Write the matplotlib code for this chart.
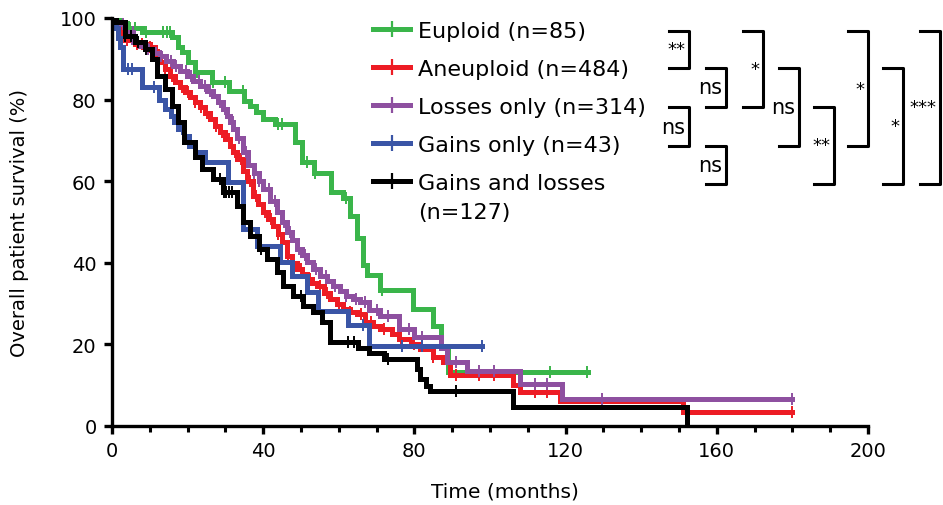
import numpy as np
import matplotlib
matplotlib.use('Agg')
import matplotlib.pyplot as plt
from matplotlib.lines import Line2D
from matplotlib.ticker import MultipleLocator

W, H = 943, 506

# legend labels and colours
labels = ['Euploid (n=85)', 'Aneuploid (n=484)', 'Losses only (n=314)',
          'Gains only (n=43)', 'Gains and losses']
colors = ['#3ab54a', '#ed1c24', '#8e50a0', '#3a55a6', '#000000']

# Kaplan-Meier steps: months, % alive from that month on
eu_t = [0, 2, 4, 8, 16, 17.5, 18.5, 20, 22, 26.5, 31, 35, 36.5, 38, 40, 43,
        48.4, 50.3, 53.5, 58, 61, 63, 64.8, 66.5, 67.5, 71, 79.6, 85, 87, 89]
eu_s = [100, 98.8, 97.6, 96.5, 95.3, 92.9, 91.7, 89.3, 86.8, 84.4, 82, 79.6,
        78.4, 77, 75.2, 74, 69.6, 64.7, 62, 57.4, 56, 51.5, 46, 39.5, 37,
        33.4, 28.7, 24.6, 19.7, 13.2]
eu_end = 126

an_t = [0, 1, 2.6, 6, 10, 11.3, 12.7, 14, 15.3, 16.6, 18, 19.3, 20.6, 22,
        23.3, 24.6, 25.9, 27.2, 28.6, 29.9, 31.2, 32, 33, 34.7, 35.7, 37.3,
        38.6, 40, 41.3, 42.6, 43.8, 45, 46.3, 47.6, 48.9, 50.2, 51.6, 52.9,
        54.2, 56, 57.7, 59.4, 61.1, 63, 64.8, 67, 69, 71, 74, 76, 79, 81.5,
        85, 87.6, 89.4, 106, 108, 118.5, 151]
an_s = [100, 97.5, 94.5, 93.6, 93, 91, 89.2, 87.5, 85.9, 84.4, 83, 81.8,
        80.6, 79.4, 78.2, 76.7, 75.2, 73.6, 72, 70.3, 68.7, 67.2, 65.5, 62.5,
        60, 56.4, 54.4, 52.4, 50.7, 49, 47, 45, 41.7, 40, 38.5, 37.2, 36,
        35.1, 34.3, 32.7, 31.1, 29.9, 28.7, 28, 27.5, 25.5, 24.5, 23.8, 22.5,
        21.3, 20, 18.9, 17, 15.6, 12.6, 10, 8.3, 6.2, 3.4]
an_end = 180

lo_t = [0, 1, 3.4, 5.6, 7.5, 9.3, 11, 12.7, 14.4, 16.1, 18, 19.8, 21.5, 23.3,
        25, 26.7, 28, 29.4, 30.3, 31.2, 32.1, 33, 34.7, 36, 37.5, 38.8, 40,
        41.8, 43.6, 45, 46.3, 47.6, 48.9, 50.3, 51.6, 53.3, 55, 56.8, 58.5,
        60.3, 62, 63.8, 65.6, 68, 71, 76, 80, 87, 88.6, 94, 108, 119]
lo_s = [100, 98.5, 96.5, 94, 93.2, 92.4, 91.5, 90.7, 89.5, 88.2, 87, 85.8,
        84.5, 83.3, 82.1, 80.9, 79.3, 77.7, 76.1, 74.5, 72.8, 70.5, 67.2, 64,
        62, 60, 58, 55.2, 52.4, 50, 47.5, 45.5, 43.4, 41.8, 40.2, 38.5, 36.8,
        35.5, 34.3, 33.1, 31.9, 31.1, 30.4, 28.5, 27, 23.8, 21.8, 19, 15.7,
        13.5, 10.3, 6.6]
lo_end = 180

ga_t = [0, 1, 1.6, 2.2, 3, 8, 12.5, 14, 15.5, 16.5, 17.5, 19, 20.5, 22, 24.5,
        30.7, 34.7, 38.4, 44.4, 47.5, 51.6, 54.5, 62.5, 68]
ga_s = [100, 97.5, 95, 93, 87.5, 83, 80, 77.7, 76, 74.5, 72.8, 71, 68.6,
        67.2, 64.7, 59.8, 48.3, 44.1, 40.2, 36.8, 32.8, 28.2, 24.8, 19.5]
ga_end = 98

gl_t = [0, 1, 3.4, 6, 8.7, 10.6, 12, 14, 15.9, 17.5, 19, 22, 23.8, 26.8,
        29.4, 33, 34.7, 36.5, 39, 41, 43.6, 45.2, 47.9, 50.5, 53.2, 55.5,
        57.7, 65, 68, 72, 80.7, 81.5, 83, 84, 106, 152]
gl_s = [100, 99, 95.6, 94, 92.4, 90, 85.8, 82.6, 78.4, 74.5, 69.6, 66, 63,
        60.5, 57.4, 54, 50, 46.6, 43.4, 41, 37.7, 34.3, 31.9, 29.4, 27.9,
        25.5, 20.6, 19, 18, 16.4, 14, 11.5, 9.8, 8.6, 4.6, 0]
gl_end = 152

# censored patients (months)
eu_c = [2.6, 4.8, 6, 9, 13.5, 14.5, 15.3, 22.5, 26.7, 30, 34.6, 44, 45, 51.5,
        53.7, 62, 71.4, 116, 125.7]
an_c = [2.5, 4, 6.5, 8, 10, 12.5, 14, 16, 18.5, 20, 22, 23.5, 25, 27.5, 29,
        31, 32.5, 34, 36.5, 38, 40.5, 42, 44, 46.5, 48, 50, 52.5, 55, 57, 60,
        63, 66, 68.5, 72, 76.5, 80, 85, 91, 97, 101, 112, 115, 180]
lo_c = [1.5, 3, 5.5, 7, 9.5, 11, 13, 15.5, 17, 19.5, 21, 23, 24.5, 26, 28.5,
        30, 32, 33.5, 35.5, 37.5, 39, 41.5, 43, 45.5, 47, 49.5, 51, 54, 56.5,
        59, 62, 64.5, 67, 70, 73, 78.5, 82, 91, 97, 101, 112, 115, 129.5, 180]
ga_c = [4.2, 5.3, 11, 18.5, 37, 66.5, 76.7, 82, 98]
gl_c = [3.5, 5, 7, 9, 28.5, 29.5, 30.2, 31, 31.8, 39.5, 50, 62.5, 64, 73, 91]

series = [(eu_t, eu_s, eu_end, eu_c), (an_t, an_s, an_end, an_c),
          (lo_t, lo_s, lo_end, lo_c), (ga_t, ga_s, ga_end, ga_c),
          (gl_t, gl_s, gl_end, gl_c)]

# log-rank comparisons: (group a, group b, label)
brackets = [(0, 1, '**'), (1, 2, 'ns'), (2, 3, 'ns'), (3, 4, 'ns'),
            (0, 2, '*'), (1, 3, 'ns'), (2, 4, '**'), (0, 3, '*'),
            (1, 4, '*'), (0, 4, '***')]
bracket_x = [689, 726, 689, 726, 763, 799, 834, 868, 903, 940]
row_y = [32, 69, 108, 147, 185]

plt.rcParams['font.family'] = ['DejaVu Sans']

fig = plt.figure(figsize=(W / 100, H / 100), dpi=100)
ax = fig.add_axes([112 / W, 1 - 427 / H, (868 - 112) / W, (427 - 19) / H])

order = [0, 4, 1, 2, 3]
for i in order:
    t, s, end, cens = series[i]
    tt = np.array(t + [end])
    ss = np.array(s + [s[-1]])
    ax.step(tt, ss, where='post', color=colors[i], lw=3.6, zorder=2 + i * 0.1,
            solid_joinstyle='miter')
    idx = np.searchsorted(np.array(t), np.array(cens), side='right') - 1
    cy = np.array(s)[idx]
    ax.plot(cens, cy, ls='none', marker='|', ms=9, mew=1.4,
            color=colors[i], zorder=2 + i * 0.1)

handles = []
for i in range(5):
    handles.append(Line2D([], [], color=colors[i], lw=3.6, marker='|',
                          ms=11, mew=1.6))

ax.set_xlim(0, 200)
ax.set_ylim(0, 100)
ax.set_xticks([0, 40, 80, 120, 160, 200])
ax.xaxis.set_minor_locator(MultipleLocator(10))
ax.set_yticks([0, 20, 40, 60, 80, 100])
for side in ['top', 'right']:
    ax.spines[side].set_visible(False)
for side in ['left', 'bottom']:
    ax.spines[side].set_linewidth(2.4)
ax.tick_params(which='major', length=6, width=2.4, labelsize=14, pad=5)
ax.tick_params(which='minor', length=4, width=2.2)
ax.set_xlabel('Time (months)', fontsize=14.5, x=0.52, labelpad=15)
ax.set_ylabel('Overall patient survival (%)', fontsize=14, labelpad=22)

leg = ax.legend(handles, labels, loc='upper left', frameon=False,
                bbox_to_anchor=(373 / W, 1 - 22 / H),
                bbox_transform=fig.transFigure, fontsize=16,
                handlelength=1.67, handletextpad=0.36, labelspacing=0.81,
                borderpad=0, borderaxespad=0, numpoints=1)
fig.text(418 / W, 1 - 213 / H, '(n=127)', fontsize=16, va='center',
         ha='left')

# significance brackets
for (a, b, lab), xv in zip(brackets, bracket_x):
    ya, yb = 1 - row_y[a] / H, 1 - row_y[b] / H
    xr, xl = xv / W, (xv - 20) / W
    fig.add_artist(Line2D([xl, xr, xr, xl], [ya, ya, yb, yb],
                          transform=fig.transFigure, color='black', lw=2.2))
    fs = 15 if lab == 'ns' else 13
    fig.text((xv - 4) / W, (ya + yb) / 2, lab, fontsize=fs,
             ha='right', va='center')

fig.savefig('out.png', dpi=100)
